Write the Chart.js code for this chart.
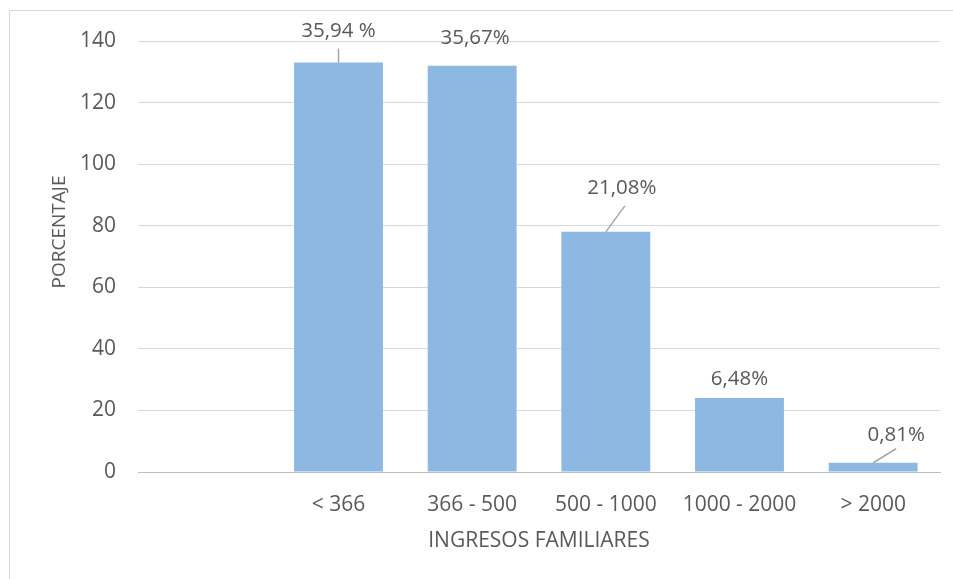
<!DOCTYPE html>
<html>
<head>
<meta charset="utf-8">
<script src="https://cdn.jsdelivr.net/npm/chart.js@4.4.1/dist/chart.umd.min.js"></script>
<style>
  html, body { margin: 0; padding: 0; background: #fff; overflow: hidden; }
  #wrap { position: relative; width: 953px; height: 579px; }
  #frame { position: absolute; left: 9px; top: 10px; width: 950px; height: 600px; border: 1px solid #d9d9d9; box-sizing: border-box; }
  canvas { position: absolute; left: 0; top: 0; }
</style>
</head>
<body>
<div id="wrap">
  <div id="frame"></div>
  <canvas id="chart" width="953" height="579"></canvas>
</div>
<script>
// datos del gráfico
const categorias = ['', '< 366', '366 - 500', '500 - 1000', '1000 - 2000', '> 2000'];
const valores = [null, 133, 132, 78, 24, 3];
const etiquetas = ['', '35,94 %', '35,67%', '21,08%', '6,48%', '0,81%'];
const yTicks = [0, 20, 40, 60, 80, 100, 120, 140];

const textColor = '#595959';
const fontFamily = "'Open Sans', 'Liberation Sans', sans-serif";

// posición de cada etiqueta respecto a la parte superior de la barra
const etiquetaPos = [
    null,
    { dx: 0, dy: -31, leader: [0, 17] },
    { dx: 3, dy: -27, leader: null },
    { dx: 16, dy: -44, leader: [3, 18] },
    { dx: 0, dy: -19, leader: null },
    { dx: 23, dy: -28, leader: [0, 14] }
];

// etiquetas de datos con líneas guía
const dataLabels = {
    id: 'dataLabels',
    afterDatasetsDraw(chart) {
        const ctx = chart.ctx;
        const meta = chart.getDatasetMeta(0);
        ctx.save();
        meta.data.forEach((bar, i) => {
            const p = etiquetaPos[i];
            if (!p || !etiquetas[i]) return;
            const x = bar.x + p.dx;
            const y = bar.y + p.dy;
            if (p.leader) {
                ctx.strokeStyle = '#a6a6a6';
                ctx.lineWidth = 1.5;
                ctx.beginPath();
                ctx.moveTo(x + p.leader[0], y + p.leader[1]);
                ctx.lineTo(bar.x, bar.y);
                ctx.stroke();
            }
            ctx.fillStyle = textColor;
            ctx.font = '20.5px ' + fontFamily;
            ctx.textAlign = 'center';
            ctx.textBaseline = 'middle';
            ctx.fillText(etiquetas[i], x, y);
        });
        ctx.restore();
    }
};

// títulos de los ejes
const axisTitles = {
    id: 'axisTitles',
    afterDraw(chart) {
        const ctx = chart.ctx;
        ctx.save();
        ctx.fillStyle = textColor;
        ctx.textAlign = 'center';
        ctx.textBaseline = 'middle';
        ctx.font = '21px ' + fontFamily;
        ctx.fillText('INGRESOS FAMILIARES', (chart.chartArea.left + chart.chartArea.right) / 2, 541);
        ctx.font = '19px ' + fontFamily;
        ctx.translate(60, 232);
        ctx.rotate(-Math.PI / 2);
        ctx.fillText('PORCENTAJE', 0, 0);
        ctx.restore();
    }
};

new Chart(document.getElementById('chart').getContext('2d'), {
    type: 'bar',
    data: {
        labels: categorias,
        datasets: [{
            data: valores,
            backgroundColor: '#8db8e2',
            borderWidth: 0,
            categoryPercentage: 1,
            barPercentage: 0.665
        }]
    },
    options: {
        responsive: false,
        animation: false,
        devicePixelRatio: 1,
        layout: { padding: { left: 0, right: 13, top: 41, bottom: 0 } },
        plugins: {
            legend: { display: false },
            tooltip: { enabled: false }
        },
        scales: {
            x: {
                grid: { display: false, drawTicks: false },
                border: { display: true, color: '#bfbfbf', width: 1 },
                ticks: {
                    color: textColor,
                    font: { family: fontFamily, size: 21 },
                    padding: 20,
                    maxRotation: 0,
                    autoSkip: false
                },
                afterFit(scale) { scale.height = 107; }
            },
            y: {
                min: 0,
                max: 140,
                grid: {
                    color: ctx => ctx.tick && ctx.tick.value === 0 ? '#bfbfbf' : '#d9d9d9',
                    lineWidth: 1,
                    drawTicks: false
                },
                border: { display: false },
                afterBuildTicks(scale) { scale.ticks = yTicks.map(v => ({ value: v })); },
                ticks: {
                    color: textColor,
                    font: { family: fontFamily, size: 21 },
                    padding: 22
                },
                afterFit(scale) { scale.width = 138; }
            }
        }
    },
    plugins: [dataLabels, axisTitles]
});
</script>
</body>
</html>
